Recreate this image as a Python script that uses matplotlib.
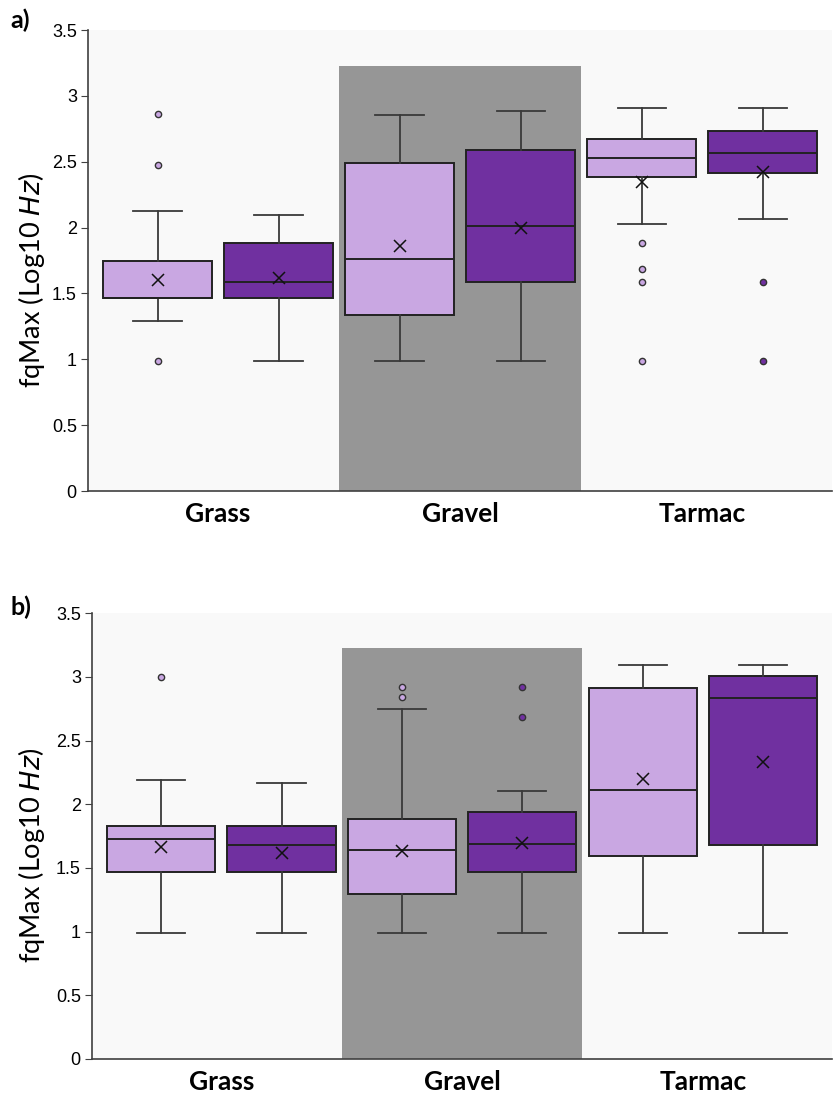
import matplotlib.pyplot as plt

categories = ["Grass", "Gravel", "Tarmac"]

# panel a) one entry per box: Grass light, Grass dark, Gravel light, Gravel dark, Tarmac light, Tarmac dark
a_whislo = [1.29, 0.99, 0.99, 0.99, 2.03, 2.065]
a_q1 = [1.465, 1.465, 1.336, 1.589, 2.384, 2.415]
a_med = [1.465, 1.587, 1.764, 2.015, 2.526, 2.564]
a_q3 = [1.744, 1.885, 2.488, 2.587, 2.675, 2.731]
a_whishi = [2.128, 2.096, 2.853, 2.888, 2.91, 2.91]
a_mean = [1.60, 1.62, 1.863, 1.995, 2.349, 2.425]
a_fliers = [[2.863, 2.475, 0.99], [], [], [], [1.886, 1.683, 1.589, 0.99], [1.589, 0.99]]

# panel b)
b_whislo = [0.992, 0.992, 0.992, 0.992, 0.992, 0.992]
b_q1 = [1.467, 1.467, 1.296, 1.467, 1.592, 1.683]
b_med = [1.731, 1.683, 1.639, 1.686, 2.116, 2.833]
b_q3 = [1.830, 1.830, 1.888, 1.940, 2.912, 3.006]
b_whishi = [2.189, 2.168, 2.752, 2.103, 3.09, 3.09]
b_mean = [1.668, 1.621, 1.631, 1.697, 2.197, 2.335]
b_fliers = [[3.0], [], [2.917, 2.844], [2.917, 2.687], [], []]

light = "#C9A7E2"
dark = "#7030A0"
colors = [light, dark] * 3

fig = plt.figure(figsize=(8.33, 11), dpi=100)
ax_a = fig.add_axes([0.1056, 0.5536, 0.893, 0.4191])
ax_b = fig.add_axes([0.1104, 0.0373, 0.888, 0.4052])


def panel(ax, whislo, q1, med, q3, whishi, mean, fliers, tag, tag_y, lab_x):
    stats = []
    for i in range(6):
        stats.append(dict(whislo=whislo[i], q1=q1[i], med=med[i], q3=q3[i],
                          whishi=whishi[i], mean=mean[i], fliers=fliers[i]))
    ax.set_facecolor("#F9F9F9")
    ax.axvspan(1.5, 3.5, ymin=0, ymax=3.23 / 3.5, color="#969696", lw=0, zorder=0)
    bp = ax.bxp(stats, positions=range(6), widths=0.9, patch_artist=True,
                showmeans=True, showfliers=True, capwidths=0.4,
                boxprops=dict(edgecolor="#222222", lw=1.4),
                medianprops=dict(color="#222222", lw=1.4),
                whiskerprops=dict(color="#3a3a3a", lw=1.3),
                capprops=dict(color="#3a3a3a", lw=1.3),
                meanprops=dict(marker="x", markeredgecolor="#111111",
                               markersize=9, markeredgewidth=1.1))
    for i, box in enumerate(bp["boxes"]):
        box.set_facecolor(colors[i])
        box.set_zorder(2)
    for i, fl in enumerate(bp["fliers"]):
        fl.set(marker="o", markerfacecolor=colors[i], markeredgecolor="#333333",
               markersize=4.5, markeredgewidth=1.0)
    ax.set_xlim(-0.575, 5.57)
    ax.set_ylim(0, 3.5)
    ax.set_yticks([0, 0.5, 1, 1.5, 2, 2.5, 3, 3.5])
    ax.set_yticklabels(["0", "0.5", "1", "1.5", "2", "2.5", "3", "3.5"],
                       family="Liberation Sans", fontsize=13)
    ax.set_xticks([0.5, 2.5, 4.5])
    ax.set_xticklabels(categories, family="Lato", fontweight="bold", fontsize=19)
    ax.tick_params(axis="x", length=0, pad=8)
    ax.tick_params(axis="y", length=5, color="#404040", pad=3)
    for s in ["top", "right"]:
        ax.spines[s].set_visible(False)
    for s in ["left", "bottom"]:
        ax.spines[s].set_color("#404040")
        ax.spines[s].set_linewidth(1.2)
    ax.set_ylabel("fqMax (Log10 $\\it{Hz}$)", family="Lato", fontsize=19.5)
    ax.yaxis.set_label_coords(lab_x, 0.458)
    fig.text(10 / 833, 1 - tag_y / 1100, tag, family="Lato", fontweight="bold",
             fontsize=18, ha="left", va="center")


panel(ax_a, a_whislo, a_q1, a_med, a_q3, a_whishi, a_mean, a_fliers, "a)", 20, -0.055)
panel(ax_b, b_whislo, b_q1, b_med, b_q3, b_whishi, b_mean, b_fliers, "b)", 607, -0.061)

fig.savefig("out.png", dpi=100, facecolor="white")
